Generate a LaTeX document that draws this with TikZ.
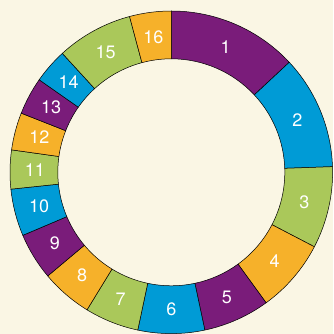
\documentclass[tikz,border=0pt]{standalone}
\usepackage{fontspec}
\setsansfont{TeX Gyre Heros}
\usetikzlibrary{calc}
\definecolor{ringplum}{HTML}{7A1C7A}
\definecolor{ringsky}{HTML}{009BD6}
\definecolor{ringlime}{HTML}{AAC85A}
\definecolor{ringamber}{HTML}{F6B12A}
\definecolor{paper}{HTML}{FAF6E4}
\tikzset{
  % Ring segments
  segment/.style={draw=black, line width=0.5pt, fill=#1, line join=round},
  segment/.default=ringplum,
  % Numbers inside the segments
  seglabel/.style={font=\sffamily\fontsize{18}{21}\selectfont, text=white,
                   inner sep=0pt},
}
\begin{document}
\begin{tikzpicture}[x=1pt, y=1pt]

% ====================================================================
% Background
% ====================================================================
\fill[paper] (-171.3,-161.7) rectangle (161.7,172.3);
\useasboundingbox (-171.3,-161.7) rectangle (161.7,172.3);

% ====================================================================
% Ring: start angle / end angle / colour / number
% ====================================================================
\def\rin{113.5}
\def\rout{161.3}
\def\rlab{136.5}
\foreach \a/\b/\col/\n in {
    90/43/ringplum/1, 43/2/ringsky/2, 2/-27.5/ringlime/3,
    -27.5/-54/ringamber/4, -54/-78/ringplum/5, -78/-102/ringsky/6,
    -102/-121.5/ringlime/7, -121.5/-140/ringamber/8,
    -140/-157/ringplum/9, -157/-174/ringsky/10, -174/-188/ringlime/11,
    -188/-201.5/ringamber/12, -201.5/-215/ringplum/13,
    -215/-227.5/ringsky/14, -227.5/-255/ringlime/15,
    -255/-270/ringamber/16} {
  \draw[segment=\col] (\a:\rin) arc[start angle=\a, end angle=\b, radius=\rin]
    -- (\b:\rout) arc[start angle=\b, end angle=\a, radius=\rout] -- cycle;
  \node[seglabel] (seg\n) at ({(\a+\b)/2}:\rlab) {\n};
}

\end{tikzpicture}
\end{document}
